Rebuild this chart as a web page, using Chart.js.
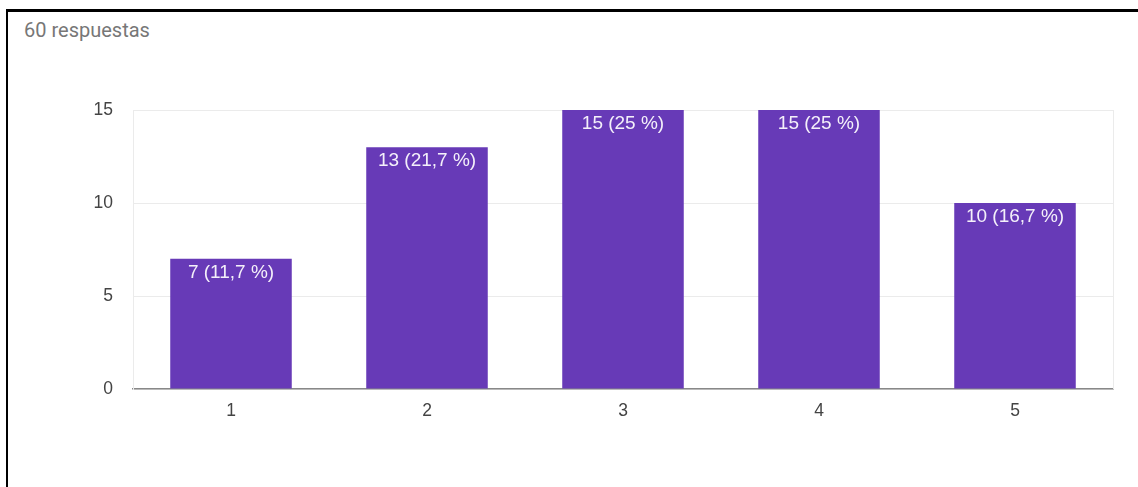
<!DOCTYPE html>
<html>
<head>
<meta charset="utf-8">
<script src="https://cdn.jsdelivr.net/npm/chart.js@4/dist/chart.umd.min.js"></script>
<style>
  html, body { margin: 0; padding: 0; background: #fff; }
  #wrap { position: relative; width: 1138px; height: 487px; overflow: hidden; }
  #frame {
    position: absolute; left: 6px; top: 9px; right: -10px; bottom: -10px;
    border-top: 3px solid #000; border-left: 2px solid #000;
  }
  #total {
    position: absolute; left: 24px; top: 18px;
    font: 20px Roboto, Arial, sans-serif; color: #777;
  }
  #chart { position: absolute; left: 0; top: 0; }
</style>
</head>
<body>
<div id="wrap">
  <div id="frame"></div>
  <div id="total">60 respuestas</div>
  <canvas id="chart" width="1138" height="487"></canvas>
</div>
<script>
// respuestas por puntuación
var categories = ['1', '2', '3', '4', '5'];
var counts = [7, 13, 15, 15, 10];
var yTicks = [0, 5, 10, 15];

var total = counts.reduce(function (a, b) { return a + b; }, 0);
document.getElementById('total').textContent = total + ' respuestas';

function labelFor(v) {
    var pct = Math.round(v / total * 1000) / 10;
    return v + ' (' + String(pct).replace('.', ',') + ' %)';
}

// etiquetas dentro de cada barra + borde derecho del área
var barLabels = {
    id: 'barLabels',
    afterDatasetsDraw: function (chart) {
        var ctx = chart.ctx;
        var area = chart.chartArea;
        ctx.save();
        ctx.strokeStyle = '#ebebeb';
        ctx.lineWidth = 1;
        ctx.beginPath();
        ctx.moveTo(area.right + 0.5, area.top);
        ctx.lineTo(area.right + 0.5, area.bottom);
        ctx.stroke();

        ctx.fillStyle = '#f4f0fa';
        ctx.font = '19px "Liberation Sans", Arial, sans-serif';
        ctx.textAlign = 'center';
        ctx.textBaseline = 'top';
        chart.getDatasetMeta(0).data.forEach(function (bar, i) {
            ctx.fillText(labelFor(counts[i]), bar.x, bar.y + 4);
        });
        ctx.restore();
    }
};

var ctx = document.getElementById('chart').getContext('2d');
var chart = new Chart(ctx, {
    type: 'bar',
    data: {
        labels: categories,
        datasets: [{
            data: counts,
            backgroundColor: '#673ab7',
            borderWidth: 0,
            categoryPercentage: 1,
            barPercentage: 0.62
        }]
    },
    options: {
        responsive: false,
        animation: false,
        layout: { padding: { left: 0, top: 110, right: 25, bottom: 0 } },
        plugins: {
            legend: { display: false },
            tooltip: { enabled: false }
        },
        scales: {
            x: {
                grid: { display: false, drawTicks: false },
                border: { color: '#888', width: 1.5 },
                ticks: {
                    padding: 12,
                    color: '#444',
                    font: { family: '"Liberation Sans", Arial, sans-serif', size: 17.5 }
                },
                afterFit: function (scale) { scale.height = 98; }
            },
            y: {
                min: 0,
                max: 15,
                afterBuildTicks: function (scale) {
                    scale.ticks = yTicks.map(function (v) { return { value: v }; });
                },
                grid: { color: '#ebebeb', drawTicks: false },
                border: { color: '#ebebeb' },
                ticks: {
                    padding: 20,
                    color: '#444',
                    font: { family: '"Liberation Sans", Arial, sans-serif', size: 17.5 }
                },
                afterFit: function (scale) { scale.width = 133; }
            }
        }
    },
    plugins: [barLabels]
});
</script>
</body>
</html>
